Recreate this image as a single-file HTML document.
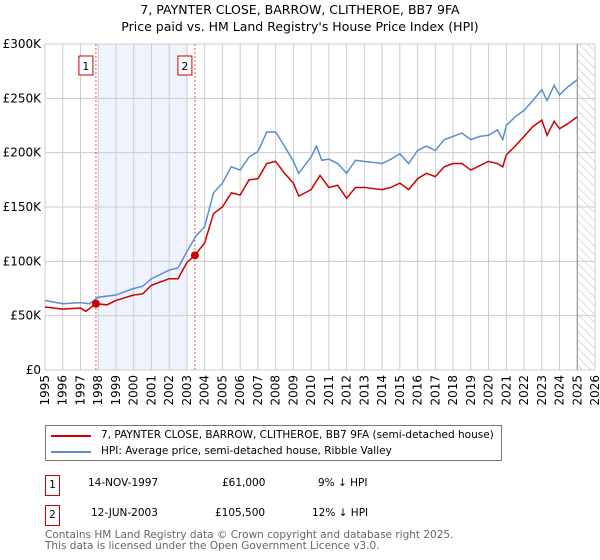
<!DOCTYPE html>
<html><head><meta charset="utf-8"><style>
body{margin:0;background:#fff;font-family:"DejaVu Sans","Liberation Sans",sans-serif;}
#wrap{position:relative;width:600px;height:560px;overflow:hidden;}
.t{position:absolute;font-size:10.5px;color:#000;white-space:nowrap;}
</style></head><body>
<div id="wrap">
<svg id="chart" width="600" height="420" style="position:absolute;left:0;top:0">
<defs><pattern id="hatch" width="6" height="6" patternUnits="userSpaceOnUse" patternTransform="rotate(-45)"><line x1="0" y1="0" x2="0" y2="6" stroke="#bbb" stroke-width="1"/></pattern></defs>
<text x="300" y="14" text-anchor="middle" font-size="12.5">7, PAYNTER CLOSE, BARROW, CLITHEROE, BB7 9FA</text>
<text x="300" y="31" text-anchor="middle" font-size="12.5">Price paid vs. HM Land Registry's House Price Index (HPI)</text>
<g id="grid"></g><g id="marks"></g><g id="axes"></g>
</svg>
<div style="position:absolute;left:45px;top:425px;width:455px;height:34px;border:1px solid #777;">
 <div style="position:absolute;left:5px;top:9px;width:40px;height:2px;background:#cc0000"></div>
 <div class="t" style="left:55px;top:3px">7, PAYNTER CLOSE, BARROW, CLITHEROE, BB7 9FA (semi-detached house)</div>
 <div style="position:absolute;left:5px;top:25px;width:40px;height:2px;background:#5b8ed0"></div>
 <div class="t" style="left:55px;top:19px">HPI: Average price, semi-detached house, Ribble Valley</div>
</div>
<div style="position:absolute;left:45px;top:475px;width:13px;height:19px;border:1px solid #cc0000;font-size:10.5px;text-align:center;line-height:19px">1</div>
<div class="t" style="left:88px;top:477px">14-NOV-1997</div>
<div class="t" style="left:222px;top:477px">£61,000</div>
<div class="t" style="left:318px;top:477px">9% ↓ HPI</div>
<div style="position:absolute;left:45px;top:505px;width:13px;height:19px;border:1px solid #cc0000;font-size:10.5px;text-align:center;line-height:19px">2</div>
<div class="t" style="left:91px;top:507px">12-JUN-2003</div>
<div class="t" style="left:215px;top:507px">£105,500</div>
<div class="t" style="left:312px;top:507px">12% ↓ HPI</div>
<div class="t" style="left:45px;top:530px;color:#666;line-height:11px">Contains HM Land Registry data © Crown copyright and database right 2025.<br>This data is licensed under the Open Government Licence v3.0.</div>
</div>
<script>
const hpiYears=[1995,1996,1997,1997.5,1998,1999,2000,2000.5,2001,2002,2002.5,2003,2003.5,2004,2004.5,2005,2005.5,2006,2006.5,2007,2007.5,2008,2008.5,2009,2009.3,2010,2010.3,2010.6,2011,2011.5,2012,2012.5,2013,2014,2014.5,2015,2015.5,2016,2016.5,2017,2017.5,2018,2018.5,2019,2019.5,2020,2020.5,2020.8,2021,2021.5,2022,2022.5,2023,2023.3,2023.7,2024,2024.5,2025];
const hpiValues=[64,61,62,61,67,69,75,77,84,92,94,109,123,132,163,172,187,184,196,201,219,219,206,192,181,196,206,193,194,190,181,193,192,190,194,199,190,202,206,202,212,215,218,212,215,216,221,212,225,233,239,248,258,248,262,253,261,267];
const priceYears=[1995,1996,1997,1997.3,1997.87,1998.5,1999,2000,2000.5,2001,2002,2002.5,2003,2003.45,2004,2004.5,2005,2005.5,2006,2006.5,2007,2007.5,2008,2008.5,2009,2009.3,2010,2010.5,2011,2011.5,2012,2012.5,2013,2014,2014.5,2015,2015.5,2016,2016.5,2017,2017.5,2018,2018.5,2019,2019.5,2020,2020.5,2020.8,2021,2021.5,2022,2022.5,2023,2023.3,2023.7,2024,2024.5,2025];
const priceValues=[58,56,57,54,61,60,64,69,70,78,84,84,99,105.5,117,144,150,163,161,175,176,190,192,181,172,160,166,179,168,170,158,168,168,166,168,172,166,176,181,178,187,190,190,184,188,192,190,187,198,206,215,224,230,216,229,222,227,233];
const saleYears=[1997.87,2003.45];
const saleValues=[61,105.5];
const saleLabels=["1","2"];
const yTicks=[0,50,100,150,200,250,300];
const yTickLabels=["£0","£50K","£100K","£150K","£200K","£250K","£300K"];
const xTicks=[1995,1996,1997,1998,1999,2000,2001,2002,2003,2004,2005,2006,2007,2008,2009,2010,2011,2012,2013,2014,2015,2016,2017,2018,2019,2020,2021,2022,2023,2024,2025,2026];

const X0=45,X1=595,Y0=370,Y1=44;
const xs=y=>X0+(y-1995)/31*(X1-X0);
const ys=v=>Y0-v/300*(Y0-Y1);
const NS="http://www.w3.org/2000/svg";
function mk(tag,attrs,parent){const e=document.createElementNS(NS,tag);for(const k in attrs)e.setAttribute(k,attrs[k]);parent.appendChild(e);return e;}
const grid=document.getElementById('grid'),marks=document.getElementById('marks'),axes=document.getElementById('axes');
let r=mk('rect',{x:xs(1998),y:Y1,width:xs(2003)-xs(1998),height:Y0-Y1,fill:'#eef3fd'},grid);


r=mk('rect',{x:xs(2025),y:Y1,width:X1-xs(2025),height:Y0-Y1,fill:'url(#hatch)'},grid);


yTicks.forEach((v,i)=>{
 const l=mk('line',{x1:X0,x2:X1,y1:ys(v),y2:ys(v),stroke:'#ccc'},grid);
 
 
 const t=mk('text',{x:X0-4,y:ys(v)+4,'text-anchor':'end','font-size':12},axes);
 t.textContent=yTickLabels[i];
 
 
});
xTicks.forEach(yr=>{
 const l=mk('line',{x1:xs(yr),x2:xs(yr),y1:Y1,y2:Y0,stroke:'#ccc'},grid);
 
 
 const t=mk('text',{x:0,y:0,'text-anchor':'end','font-size':12,transform:`translate(${xs(yr)+4},${Y0+5}) rotate(-90)`},axes);
 t.textContent=yr;
 
 
});
let l=mk('line',{x1:xs(2025),x2:xs(2025),y1:Y1,y2:Y0,stroke:'#888','stroke-width':1},grid);


saleYears.forEach((yr,i)=>{
 const v=mk('line',{x1:xs(yr),x2:xs(yr),y1:Y1,y2:Y0,stroke:'#e05050','stroke-dasharray':'2,2'},marks);
 
 
 const b=mk('rect',{x:xs(yr)-17,y:56,width:14,height:19,fill:'#fff',stroke:'#cc0000'},marks);
 
 
 const t=mk('text',{x:xs(yr)-10,y:70,'text-anchor':'middle','font-size':11},marks);
 t.textContent=saleLabels[i];
 
 
});
let p=mk('polyline',{points:hpiYears.map((y,i)=>xs(y)+','+ys(hpiValues[i])).join(' '),fill:'none',stroke:'#5b8ed0','stroke-width':1.5},marks);


p=mk('polyline',{points:priceYears.map((y,i)=>xs(y)+','+ys(priceValues[i])).join(' '),fill:'none',stroke:'#cc0000','stroke-width':1.5},marks);


saleYears.forEach((yr,i)=>{
 const c=mk('circle',{cx:xs(yr),cy:ys(saleValues[i]),r:4,fill:'#cc0000'},marks);
 
 
});
</script>
</body></html>
